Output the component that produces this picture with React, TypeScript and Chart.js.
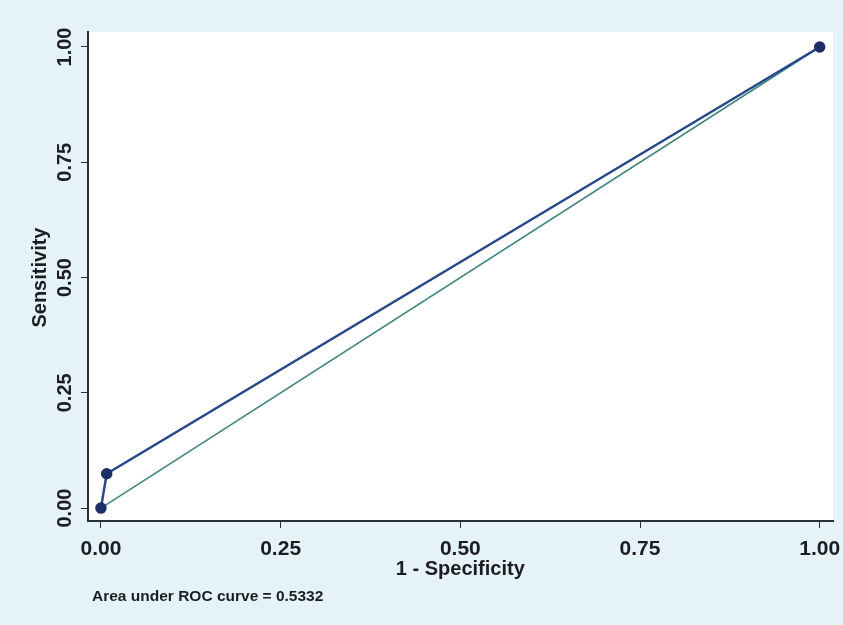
import React, { useEffect, useRef } from "react";
import { Chart, registerables } from "chart.js";

Chart.register(...registerables);

// ROC curve points (1 - specificity, sensitivity)
const rocFpr = [0, 0.008, 1];
const rocTpr = [0, 0.0744, 1];
// Reference (chance) line
const refX = [0, 1];
const refY = [0, 1];
// Ticks
const xTickValues = [0, 0.25, 0.5, 0.75, 1];
const yTickValues = [0, 0.25, 0.5, 0.75, 1];
const xTickLabels = ["0.00", "0.25", "0.50", "0.75", "1.00"];
const yTickLabels = ["0.00", "0.25", "0.50", "0.75", "1.00"];
const xTitle = "1 - Specificity";
const yTitle = "Sensitivity";
const note = "Area under ROC curve = 0.5332";

const FONT = "'Liberation Sans', Arial, Helvetica, sans-serif";
const TEXT = "#1b1d22";

export default function App() {
  const ref = useRef<HTMLCanvasElement | null>(null);

  useEffect(() => {
    if (!ref.current) return;
    const textPlugin = {
      id: "stataDecor",
      beforeDraw(chart: any) {
        const { ctx, chartArea } = chart;
        ctx.save();
        ctx.fillStyle = "#ffffff";
        ctx.fillRect(chartArea.left, chartArea.top, chartArea.right - chartArea.left, chartArea.bottom - chartArea.top);
        ctx.restore();
      },
      afterDraw(chart: any) {
        const { ctx } = chart;
        const ys = chart.scales.y;
        const xs = chart.scales.x;
        ctx.save();
        ctx.fillStyle = TEXT;
        ctx.font = `bold 20px ${FONT}`;
        ctx.textAlign = "center";
        ctx.textBaseline = "alphabetic";
        yTickValues.forEach((v, i) => {
          const py = ys.getPixelForValue(v);
          ctx.save();
          ctx.translate(71, py);
          ctx.rotate(-Math.PI / 2);
          ctx.fillText(yTickLabels[i], 0, 0);
          ctx.restore();
        });
        // y title
        ctx.save();
        ctx.translate(46, ys.getPixelForValue(0.5));
        ctx.rotate(-Math.PI / 2);
        ctx.fillText(yTitle, 0, 0);
        ctx.restore();
        // x tick labels
        ctx.font = `bold 21px ${FONT}`;
        xTickValues.forEach((v, i) => {
          ctx.fillText(xTickLabels[i], xs.getPixelForValue(v), 555);
        });
        ctx.font = `bold 20px ${FONT}`;
        ctx.fillText(xTitle, xs.getPixelForValue(0.5), 575);
        // note
        ctx.font = `bold 15.5px ${FONT}`;
        ctx.textAlign = "left";
        ctx.fillText(note, 92, 601);
        ctx.restore();
      },
    };

    const chart = new Chart(ref.current, {
      type: "scatter",
      data: {
        datasets: [
          {
            label: "ROC",
            data: rocFpr.map((x, i) => ({ x, y: rocTpr[i] })),
            showLine: true,
            borderColor: "#27498a",
            borderWidth: 2.5,
            backgroundColor: "#1d2f66",
            pointBackgroundColor: "#1d2f66",
            pointBorderColor: "#1d2f66",
            pointRadius: 4.5,
            order: 1,
          },
          {
            label: "Reference",
            data: refX.map((x, i) => ({ x, y: refY[i] })),
            showLine: true,
            borderColor: "#3f8580",
            borderWidth: 1.6,
            pointRadius: 0,
            order: 2,
          },
        ],
      },
      options: {
        responsive: false,
        animation: false,
        layout: { padding: { top: 32, right: 10, left: 0, bottom: 0 } },
        plugins: {
          legend: { display: false },
          tooltip: { enabled: false },
        },
        scales: {
          x: {
            type: "linear",
            min: -0.018,
            max: 1.0185,
            afterBuildTicks: (s: any) => {
              s.ticks = xTickValues.map((v) => ({ value: v }));
            },
            afterFit: (s: any) => {
              s.height = 104;
            },
            ticks: { display: false },
            grid: {
              drawOnChartArea: false,
              drawTicks: true,
              tickLength: 7,
              color: "#2a2f36",
              lineWidth: 1,
            },
            border: { display: true, color: "#2a2f36", width: 2 },
          },
          y: {
            type: "linear",
            min: -0.028,
            max: 1.0325,
            afterBuildTicks: (s: any) => {
              s.ticks = yTickValues.map((v) => ({ value: v }));
            },
            afterFit: (s: any) => {
              s.width = 88;
            },
            ticks: { display: false },
            grid: {
              drawOnChartArea: false,
              drawTicks: true,
              tickLength: 7,
              color: "#2a2f36",
              lineWidth: 1,
            },
            border: { display: true, color: "#2a2f36", width: 2 },
          },
        },
      },
      plugins: [textPlugin],
    });
    return () => chart.destroy();
  }, []);

  return (
    <div
      style={{
        position: "fixed",
        left: 0,
        top: 0,
        width: 843,
        height: 625,
        background: "#e5f3f9",
      }}
    >
      <canvas ref={ref} width={843} height={625} style={{ display: "block" }} />
    </div>
  );
}
